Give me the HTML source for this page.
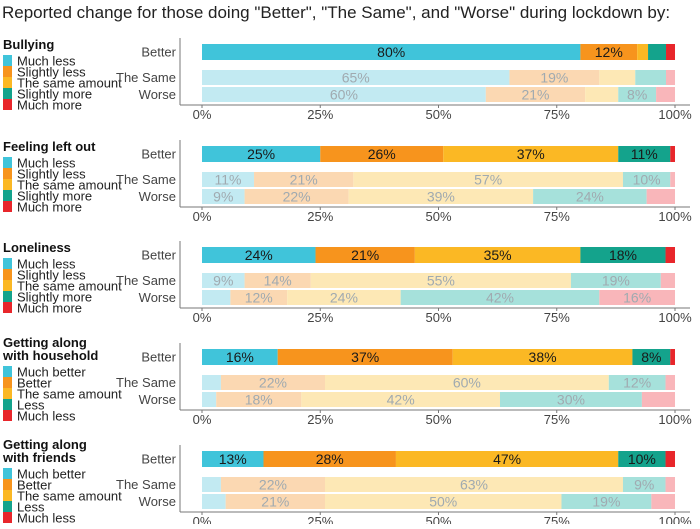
<!DOCTYPE html>
<html><head><meta charset="utf-8"><style>
body{margin:0;background:#fff;width:700px;height:524px;overflow:hidden;font-family:"Liberation Sans",sans-serif}
</style></head><body>
<svg id="c" width="700" height="524" xmlns="http://www.w3.org/2000/svg" font-family="Liberation Sans, sans-serif">
<text x="2" y="18" font-size="17" fill="#222">Reported change for those doing "Better", "The Same", and "Worse" during lockdown by:</text>
</svg>
<script>
const panelTitles=[["Bullying"],["Feeling left out"],["Loneliness"],["Getting along","with household"],["Getting along","with friends"]];
const legendA=["Much less","Slightly less","The same amount","Slightly more","Much more"];
const legendB=["Much better","Better","The same amount","Less","Much less"];
const groups=["Better","The Same","Worse"];
const tickLabels=["0%","25%","50%","75%","100%"];
const tickValues=[0,25,50,75,100];
const bullying=[[80,12,2.3,3.8,1.9],[65,19,7.6,6.5,1.9],[60,21,7,8,4]];
const leftOut=[[25,26,37,11,1],[11,21,57,10,1],[9,22,39,24,6]];
const loneliness=[[24,21,35,18,2],[9,14,55,19,3],[6,12,24,42,16]];
const household=[[16,37,38,8,1],[4,22,60,12,2],[3,18,42,30,7]];
const friends=[[13,28,47,10,2],[4,22,63,9,2],[5,21,50,19,5]];
const panelData=[bullying,leftOut,loneliness,household,friends];

const dark=["#40c4da","#f7941d","#fbb824","#14a38c","#e8262b"];
const light=["#c2eaf2","#fbd8b2","#fde8b5","#a6e1db","#f9b6ba"];
const svg=document.getElementById('c');
const NS="http://www.w3.org/2000/svg";
const X0=202,X1=675;
const xs=v=>X0+(X1-X0)*v/100;
function mk(t,a,txt){const e=document.createElementNS(NS,t);for(const k in a)e.setAttribute(k,a[k]);if(txt!==undefined)e.textContent=txt;svg.appendChild(e);return e;}
const tops=[44,146,247,349,451];
panelData.forEach((data,p)=>{
  const top=tops[p];
  const rowY=[top,top+26,top+43];
  const rowH=[16,15,15];
  const tl=panelTitles[p];
  tl.forEach((t,i)=>{
    const e=mk('text',{x:3,y:(tl.length>1?top-2+i*13:top+5),'font-size':13,'font-weight':'bold',fill:'#111'},t);
    
    
  });
  const legY=top+(tl.length>1?6:0)+17;
  const leg=p>=3?legendB:legendA;
  leg.forEach((l,i)=>{
    const r=mk('rect',{x:3,y:legY+i*11-6,width:9,height:11,fill:dark[i]});
    
    
    const t=mk('text',{x:17,y:legY+i*11+4.5,'font-size':13,fill:'#222'},l);
    
    
  });
  const axB=rowY[2]+rowH[2]+3;
  const va=mk('line',{x1:180,y1:top-6,x2:180,y2:axB,stroke:'#777','stroke-width':1});
  
  
  const ha=mk('line',{x1:180,y1:axB,x2:690,y2:axB,stroke:'#777','stroke-width':1});
  
  
  tickValues.forEach((v,i)=>{
    const tk=mk('line',{x1:xs(v),y1:axB,x2:xs(v),y2:axB+3,stroke:'#777'});
    
    
    const t=mk('text',{x:xs(v),y:axB+14,'font-size':13,fill:'#444','text-anchor':'middle'},tickLabels[i]);
    
    
  });
  data.forEach((row,r)=>{
    const gl=mk('text',{x:176,y:rowY[r]+rowH[r]/2+4.5,'font-size':13,fill:'#444','text-anchor':'end'},groups[r]);
    
    
    const tot=row.reduce((a,b)=>a+b,0);
    let acc=0;
    row.forEach((v,i)=>{
      const a=acc/tot*100,b=(acc+v)/tot*100;acc+=v;
      const rc=mk('rect',{x:xs(a),y:rowY[r],width:xs(b)-xs(a),height:rowH[r],fill:r===0?dark[i]:light[i]});
      
      
      if(v>=7.9){
        const t=mk('text',{x:(xs(a)+xs(b))/2,y:rowY[r]+rowH[r]/2+5,'font-size':14,'text-anchor':'middle',fill:r===0?'#1a1a1a':'#a0aab0'},Math.round(v)+'%');
        
        
      }
    });
  });
});
</script>
</body></html>
